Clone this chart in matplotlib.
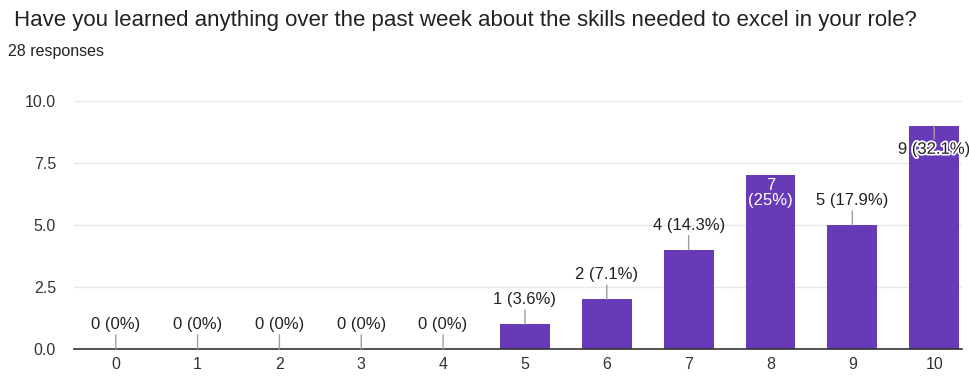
import matplotlib.pyplot as plt
import matplotlib.patheffects as pe

plt.rcParams['font.family'] = ['Liberation Sans', 'DejaVu Sans']

ratings = [0, 1, 2, 3, 4, 5, 6, 7, 8, 9, 10]
counts = [0, 0, 0, 0, 0, 1, 2, 4, 7, 5, 9]
percents = ['0%', '0%', '0%', '0%', '0%', '3.6%', '7.1%', '14.3%', '25%', '17.9%', '32.1%']
yticks = [0.0, 2.5, 5.0, 7.5, 10.0]

purple = '#673ab7'
text_col = '#222222'

fig = plt.figure(figsize=(9.7, 3.76), dpi=100)
ax = fig.add_axes([74 / 970, 27 / 376, 888 / 970, 248 / 376])

ax.bar(ratings, counts, width=0.61, color=purple, zorder=3)

ax.set_xlim(-0.51, 10.34)
ax.set_ylim(0, 10)
ax.set_yticks(yticks)
ax.set_yticklabels([f'{t:.1f}' for t in yticks])
ax.set_xticks(ratings)
ax.set_xticklabels([str(r) for r in ratings])
ax.tick_params(axis='both', length=0, labelsize=11.5, colors='#333333')
ax.tick_params(axis='y', pad=13)
ax.tick_params(axis='x', pad=6)

ax.grid(axis='y', color='#e8e8e8', linewidth=1, zorder=0)
for s in ['top', 'right', 'left']:
    ax.spines[s].set_visible(False)
ax.spines['bottom'].set_color('#333333')
ax.spines['bottom'].set_linewidth(1.2)
ax.spines['bottom'].set_zorder(4)

lead = dict(arrowstyle='-', color='#9e9e9e', lw=1, shrinkA=0, shrinkB=0)
for r, c, p in zip(ratings, counts, percents):
    if r == 8:
        # tall enough bar: label sits inside in white
        ax.annotate(f'{c}\n({p})', xy=(r, c), xytext=(0, -3), textcoords='offset pixels',
                    ha='center', va='top', color='white', fontsize=12, linespacing=1.0,
                    zorder=5)
    elif r == 10:
        ax.annotate(f'{c} ({p})', xy=(r, c), xytext=(0, -16), textcoords='offset pixels',
                    ha='center', va='top', color=text_col, fontsize=12, zorder=5,
                    annotation_clip=False, arrowprops=lead,
                    path_effects=[pe.withStroke(linewidth=2.5, foreground='white')])
    else:
        ax.annotate(f'{c} ({p})', xy=(r, c), xytext=(0, 17), textcoords='offset pixels',
                    ha='center', va='bottom', color=text_col, fontsize=12, zorder=5,
                    arrowprops=lead)

fig.text(14 / 970, 1 - 26 / 376, 'Have you learned anything over the past week about the skills needed to excel in your role?',
         fontsize=16, color=text_col, va='baseline')
fig.text(8 / 970, 1 - 56 / 376, '28 responses', fontsize=11.5, color=text_col, va='baseline')

fig.savefig('out.png', dpi=100, facecolor='white')
